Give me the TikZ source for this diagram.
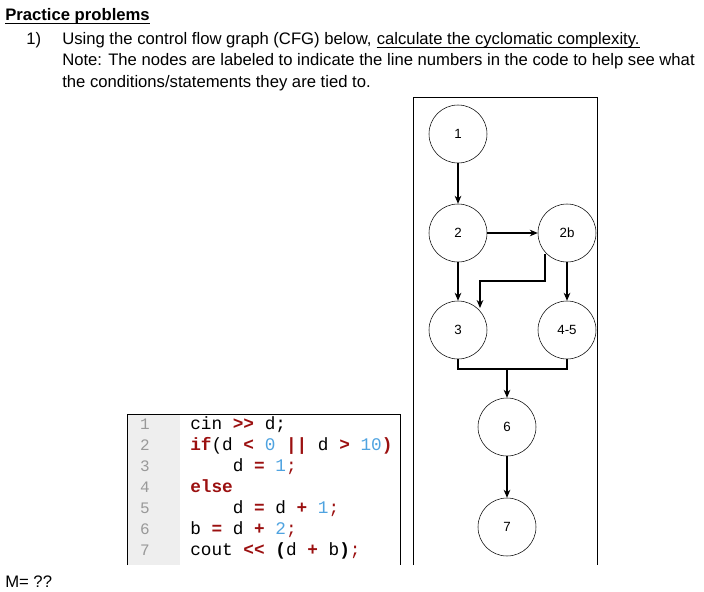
\documentclass[tikz,border=0pt]{standalone}
\usepackage{fontspec}
\setmainfont{Liberation Sans}
\newfontfamily\codefont{Liberation Mono}
\usetikzlibrary{arrows.meta}
\definecolor{kw}{HTML}{9B1010}
\definecolor{num}{HTML}{4FA3E0}
\definecolor{lnbg}{HTML}{EEEEEE}
\definecolor{lnfg}{HTML}{999999}
\begin{document}
\begin{tikzpicture}[x=0.75pt,y=-0.75pt,
  cnode/.style={draw,circle,minimum size=43.5pt,inner sep=0pt,font=\fontsize{10}{12}\selectfont},
  arr/.style={-{Stealth[length=6pt,width=5pt]},thick},
  txt/.style={anchor=base west,inner sep=0pt,font=\fontsize{12.5}{14}\selectfont},
  code/.style={anchor=base west,inner sep=0pt,font=\codefont\fontsize{13.3}{15}\selectfont},
  lnum/.style={anchor=base,inner sep=0pt,text=lnfg,font=\codefont\fontsize{12}{14}\selectfont}]
\useasboundingbox (0,0) rectangle (704,592);
\node[txt,font=\bfseries\fontsize{12.5}{14}\selectfont] (t0) at (5,21) {Practice problems};
\draw ([yshift=-2pt]t0.base west) -- ([yshift=-2pt]t0.base east);
\node[txt] (t1n) at (26,45) {1)};
\node[txt] (t1) at (62,45) {Using the control flow graph (CFG) below,\ };
\node[txt,anchor=base west] (t1u) at ([xshift=3.5pt]t1.base east) {calculate the cyclomatic complexity.};
\draw ([yshift=-2pt]t1u.base west) -- ([yshift=-2pt]t1u.base east);
\node[txt] (t2) at (62,66) {Note: The nodes are labeled to indicate the line numbers in the code to help see what};
\node[txt] (t3) at (62,88) {the conditions/statements they are tied to.};
\node[txt] (m) at (5,587) {M= ??};
% code box
\fill[lnbg] (127,414) rectangle (180,565);
\draw[thin] (127,565) -- (127,414) -- (400,414) -- (400,565);
\foreach \i/\y in {1/429,2/450,3/471,4/492,5/513,6/534,7/555}{
  \node[lnum] (ln\i) at (145,\y) {\i};}
\node[code] (c1) at (190,429) {cin \textcolor{kw}{\textbf{>>}} d;};
\node[code] (c2) at (190,450) {\textcolor{kw}{\textbf{if}}(d \textcolor{kw}{\textbf{<}} \textcolor{num}{0} \textcolor{kw}{\textbf{||}} d \textcolor{kw}{\textbf{>}} \textcolor{num}{10}\textcolor{kw}{\textbf{)}}};
\node[code] (c3) at (190,471) {\ \ \ \ d \textcolor{kw}{\textbf{=}} \textcolor{num}{1}\textcolor{kw}{;}};
\node[code] (c4) at (190,492) {\textcolor{kw}{\textbf{else}}};
\node[code] (c5) at (190,513) {\ \ \ \ d \textcolor{kw}{\textbf{=}} d \textcolor{kw}{\textbf{+}} \textcolor{num}{1}\textcolor{kw}{;}};
\node[code] (c6) at (190,534) {b \textcolor{kw}{\textbf{=}} d \textcolor{kw}{\textbf{+}} \textcolor{num}{2}\textcolor{kw}{;}};
\node[code] (c7) at (190,555) {cout \textcolor{kw}{\textbf{<<}} \textbf{(}d \textcolor{kw}{\textbf{+}} b\textbf{)}\textcolor{kw}{;}};
% frame
\draw[thin] (413,565) -- (413,97) -- (597,97) -- (597,565);
% graph
\node[cnode] (n1) at (458,134) {1};
\node[cnode] (n2) at (458,233) {2};
\node[cnode] (n2b) at (567,233) {2b};
\node[cnode] (n3) at (458,330) {3};
\node[cnode] (n45) at (567,330) {4-5};
\node[cnode] (n6) at (507,427) {6};
\node[cnode] (n7) at (507,527) {7};
\draw[arr] (n1) -- (n2);
\draw[arr] (n2) -- (n2b);
\draw[arr] (n2) -- (n3);
\draw[arr] (n2b) -- (n45);
\coordinate (a0) at (545,254);
\coordinate (a2) at (480,281);
\draw[arr] (a0) |- (a2) -- (480,308);
\coordinate (j) at (507,369);
\draw[thick] (n3.south) |- (j);
\draw[thick] (n45.south) |- (j);
\draw[arr] (j) -- (n6);
\draw[arr] (n6) -- (n7);
\end{tikzpicture}
\end{document}
